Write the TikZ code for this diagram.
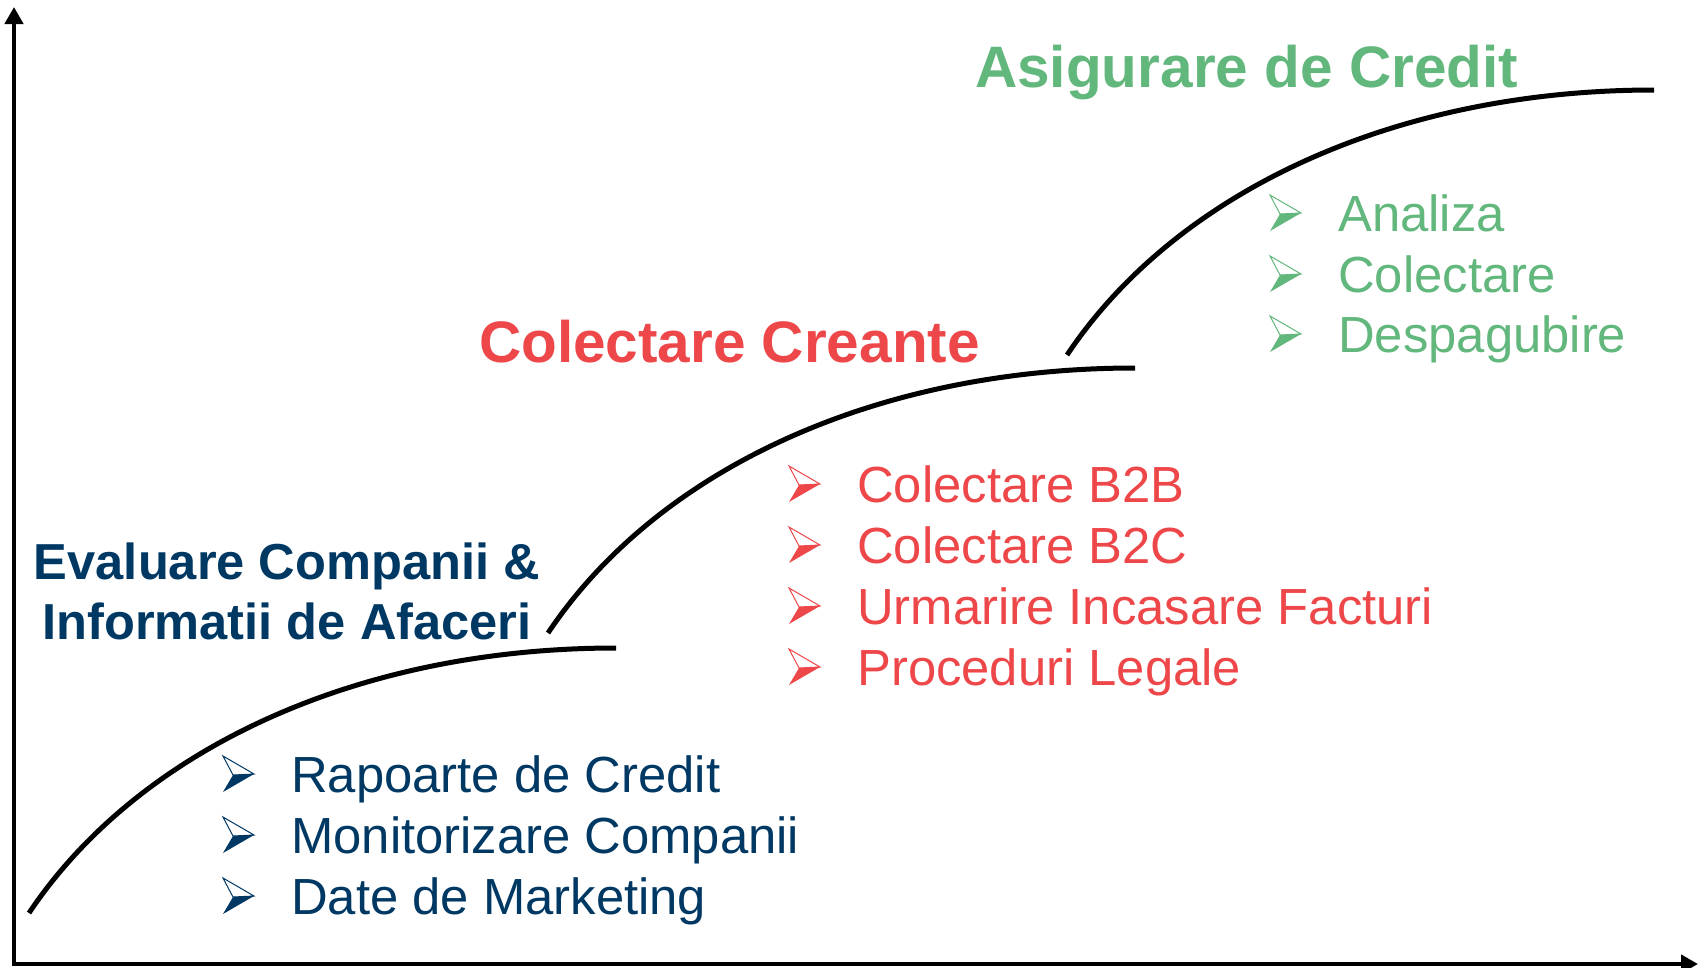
\documentclass[tikz,border=0pt]{standalone}
\usepackage{fontspec}
\setmainfont{Liberation Sans}
\usetikzlibrary{arrows.meta}

\definecolor{navy}{RGB}{0,56,100}
\definecolor{coral}{RGB}{238,71,74}
\definecolor{leaf}{RGB}{98,183,124}

\tikzset{
  axis/.style={line width=4.5pt, line join=miter, {Triangle[width=18pt,length=17pt]}-{Triangle[width=18pt,length=17pt]}},
  stage/.style={line width=5pt},
  title/.style={font=\fontsize{58.5}{70}\selectfont\bfseries, inner sep=0pt},
  entry/.style={font=\fontsize{50.8}{61}\selectfont, inner sep=0pt, anchor=base west},
  % 3-d arrowhead bullet, origin at its lower back corner
  arrowbullet/.pic={
    \fill (0,0) -- (10,-17) -- (31,-18) -- cycle;
    \draw[line width=1pt, line join=miter] (0,-36) -- (31,-18) -- (10,-17) -- cycle;
  },
}

\begin{document}
\begin{tikzpicture}[x=1pt,y=-1pt]
\useasboundingbox (0,0) rectangle (1708,967);

% axes
\draw[axis] (14,7) -- (14,964) -- (1698,964);

% the three growth curves
\foreach \sx/\sy in {29/913, 548/633, 1067/355} {
  \begin{scope}[shift={(\sx,\sy)}]
    \draw[stage] (0,0) .. controls (109,-163) and (327,-265) .. (587,-265);
  \end{scope}
}

% titles
\node[title, font=\fontsize{50.6}{60}\selectfont\bfseries, text=navy, align=center] (evaltitle) at (287,591) {Evaluare Companii \&\\Informatii de Afaceri};
\node[title, text=coral, anchor=base west] (colltitle) at (479,362) {Colectare Creante};
\node[title, text=leaf, anchor=base west] (insutitle) at (975,87) {Asigurare de Credit};

% lists
\begin{scope}[every node/.style={entry, text=navy}]
  \node (rap) at (291,792) {Rapoarte de Credit};
  \node (mon) at (291,853) {Monitorizare Companii};
  \node (dat) at (291,914) {Date de Marketing};
\end{scope}
\begin{scope}[every node/.style={entry, text=coral}]
  \node (btob) at (857,502) {Colectare B2B};
  \node (btoc) at (857,563) {Colectare B2C};
  \node (urm) at (857,624) {Urmarire Incasare Facturi};
  \node (proc) at (857,685) {Proceduri Legale};
\end{scope}
\begin{scope}[every node/.style={entry, text=leaf}]
  \node (ana) at (1338,231) {Analiza};
  \node (col) at (1338,292) {Colectare};
  \node (desp) at (1338,352) {Despagubire};
\end{scope}

% bullets
\foreach \n in {rap,mon,dat}
  \pic[color=navy] at ([xshift=-68pt]\n.base west) {arrowbullet};
\foreach \n in {btob,btoc,urm,proc}
  \pic[color=coral] at ([xshift=-68pt]\n.base west) {arrowbullet};
\foreach \n in {ana,col,desp}
  \pic[color=leaf] at ([xshift=-68pt]\n.base west) {arrowbullet};
\end{tikzpicture}
\end{document}
